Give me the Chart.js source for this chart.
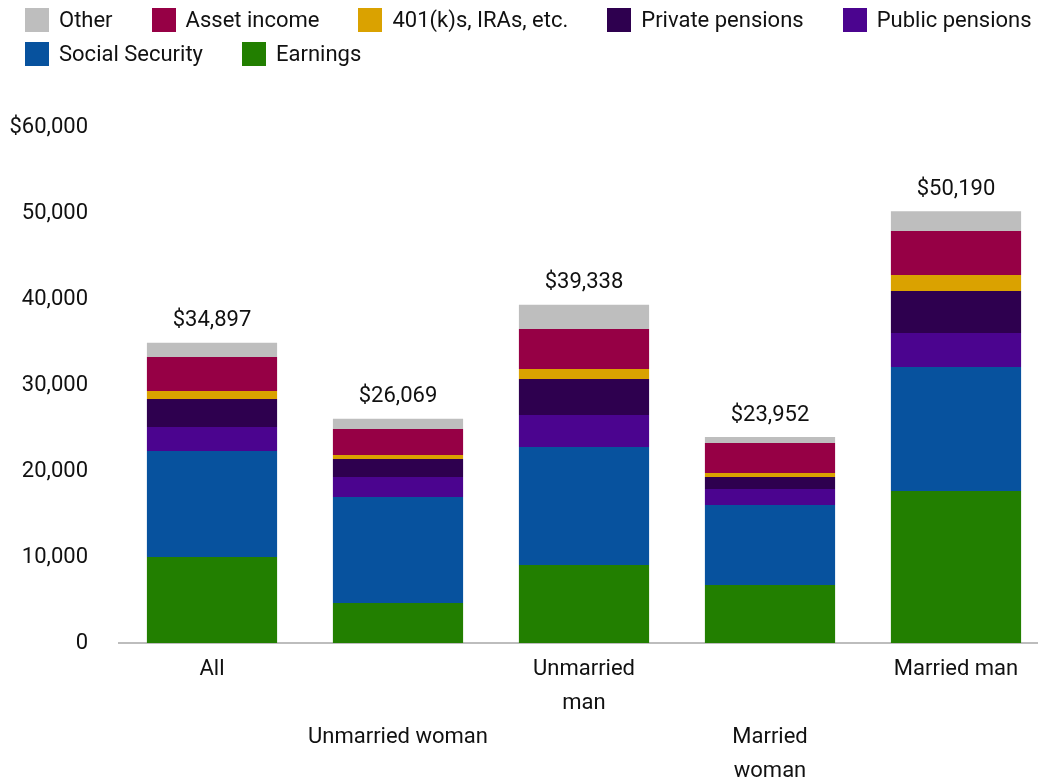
<!DOCTYPE html>
<html>
<head>
<meta charset="utf-8">
<script src="https://cdn.jsdelivr.net/npm/chart.js@4/dist/chart.umd.min.js"></script>
<style>
  html, body { margin: 0; padding: 0; background: #fff; overflow: hidden; }
  #wrap { position: relative; width: 1038px; height: 780px; overflow: hidden; }
  #chart { position: absolute; left: 0; top: 0; }
  #legend { position: absolute; left: 25px; top: 8px; font-family: Roboto, sans-serif; font-size: 22px; color: #111; }
  .row { display: flex; height: 24px; margin-bottom: 10px; }
  .item { display: flex; align-items: center; margin-right: 39px; line-height: 24px; white-space: nowrap; }
  .box { width: 24px; height: 24px; margin-right: 10px; }
</style>
</head>
<body>
<div id="wrap">
  <canvas id="chart" width="1050" height="780"></canvas>
  <div id="legend"></div>
</div>
<script>
// categories and tick label lines (staggered like the original)
const categories = ["All", "Unmarried woman", "Unmarried man", "Married woman", "Married man"];
const tickLines = [["All"], ["", "", "Unmarried woman"], ["Unmarried", "man"], ["", "", "Married", "woman"], ["Married man"]];

// income by source, in dollars
const earnings = [10000, 4650, 9070, 6750, 17680];
const socialSecurity = [12330, 12330, 13730, 9300, 14420];
const publicPensions = [2790, 2330, 3720, 1860, 3960];
const privatePensions = [3260, 2090, 4190, 1400, 4880];
const retirementAccounts = [930, 470, 1160, 470, 1860];
const assetIncome = [3960, 3020, 4650, 3490, 5120];
const other = [1630, 1180, 2810, 690, 2270];
const totals = [34897, 26069, 39338, 23952, 50190];

const seriesNames = ["Earnings", "Social Security", "Public pensions", "Private pensions", "401(k)s, IRAs, etc.", "Asset income", "Other"];
const seriesColors = ["#227F00", "#07529E", "#4B048F", "#2E004F", "#DAA200", "#960045", "#BEBEBE"];
const seriesData = [earnings, socialSecurity, publicPensions, privatePensions, retirementAccounts, assetIncome, other];

Chart.defaults.font.family = "Roboto, sans-serif";
Chart.defaults.font.size = 22;
Chart.defaults.color = "#111";

// html legend, top of stack first, split into two rows like the original
const legendOrder = seriesNames.map((n, i) => i).reverse();
const legendRows = [legendOrder.slice(0, 5), legendOrder.slice(5)];
const legendEl = document.getElementById("legend");
legendRows.forEach((row) => {
    const rowEl = document.createElement("div");
    rowEl.className = "row";
    row.forEach((i) => {
        rowEl.innerHTML += `<div class="item"><span class="box" style="background:${seriesColors[i]}"></span><span>${seriesNames[i]}</span></div>`;
    });
    legendEl.appendChild(rowEl);
});

// totals above each bar
const totalLabels = {
    id: "totalLabels",
    afterDatasetsDraw(chart) {
        const ctx = chart.ctx;
        const y = chart.scales.y;
        const meta = chart.getDatasetMeta(chart.data.datasets.length - 1);
        ctx.save();
        ctx.font = "22px Roboto, sans-serif";
        ctx.fillStyle = "#111";
        ctx.textAlign = "center";
        ctx.textBaseline = "middle";
        totals.forEach((t, i) => {
            ctx.fillText("$" + t.toLocaleString("en-US"), meta.data[i].x, y.getPixelForValue(t) - 22);
        });
        ctx.restore();
    },
};

new Chart(document.getElementById("chart"), {
    type: "bar",
    data: {
        labels: categories,
        datasets: seriesData.map((d, i) => ({
            label: seriesNames[i],
            data: d,
            backgroundColor: seriesColors[i],
            borderWidth: 0,
            barPercentage: 0.7,
            categoryPercentage: 1,
        })),
    },
    options: {
        responsive: false,
        animation: false,
        devicePixelRatio: 1,
        layout: { padding: { top: 127, right: 1, bottom: 0, left: 0 } },
        plugins: {
            legend: { display: false },
            tooltip: { enabled: false },
        },
        scales: {
            x: {
                stacked: true,
                grid: { display: false, drawTicks: false },
                border: { display: true, color: "#BDBDBD", width: 2 },
                ticks: {
                    padding: 9,
                    maxRotation: 0,
                    autoSkip: false,
                    font: { size: 22, lineHeight: "34px" },
                    callback: (v, i) => tickLines[i],
                },
                afterFit: (scale) => { scale.height = 137; },
            },
            y: {
                stacked: true,
                min: 0,
                max: 60000,
                grid: { display: false, drawTicks: false },
                border: { display: false },
                ticks: {
                    stepSize: 10000,
                    padding: 31,
                    callback: (v) => (v === 60000 ? "$" : "") + v.toLocaleString("en-US"),
                },
                afterFit: (scale) => { scale.width = 119; },
            },
        },
    },
    plugins: [totalLabels],
});
</script>
</body>
</html>
